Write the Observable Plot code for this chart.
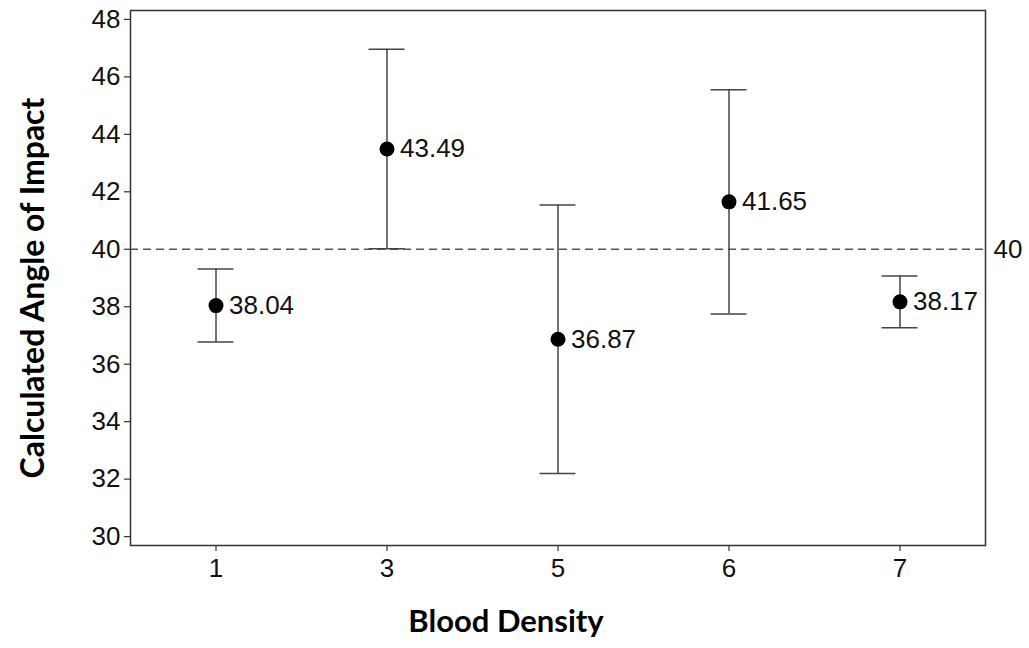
<!DOCTYPE html>
<html>
<head>
<meta charset="utf-8">
<script src="https://cdn.jsdelivr.net/npm/d3@7"></script>
<script src="https://cdn.jsdelivr.net/npm/@observablehq/plot@0.6"></script>
<style>
  html, body { margin: 0; padding: 0; background: #fff; }
</style>
</head>
<body>
<div id="chart"></div>
<script>
const categories = ["1", "3", "5", "6", "7"];
const means = [38.04, 43.49, 36.87, 41.65, 38.17];
const lower = [36.77, 40.02, 32.20, 37.75, 37.27];
const upper = [39.31, 46.96, 41.54, 45.55, 39.07];
const yTicks = [30, 32, 34, 36, 38, 40, 42, 44, 46, 48];
const refValue = 40;
const xLabel = "Blood Density";
const yLabel = "Calculated Angle of Impact";

const capHalf = 0.105; // half-width of error bar caps, in category steps
const data = categories.map((c, i) => ({i, cat: c, mean: means[i], lo: lower[i], hi: upper[i]}));

const chart = Plot.plot({
  width: 1029,
  height: 648,
  marginLeft: 130,
  marginRight: 44,
  marginTop: 10,
  marginBottom: 103,
  style: {fontFamily: "'Liberation Sans', Arial, sans-serif", background: "#fff", color: "#111"},
  x: {type: "linear", domain: [-0.5, categories.length - 0.5], label: null},
  y: {domain: [29.69, 48.31], label: null},
  marks: [
    Plot.axisY({ticks: yTicks, tickSize: 6, tickPadding: 4, fontSize: 26, stroke: "#333", strokeWidth: 1.2, label: null}),
    Plot.axisX({ticks: categories.map((c, i) => i), tickFormat: i => categories[i], tickSize: 6, tickPadding: 7, fontSize: 26, stroke: "#333", strokeWidth: 1.2, label: null}),
    Plot.ruleY([refValue], {stroke: "#555", strokeWidth: 1.5, strokeDasharray: "8,5"}),
    Plot.text([refValue], {y: d => d, frameAnchor: "right", dx: 8, textAnchor: "start", text: d => String(d), fontSize: 26, fill: "#111"}),
    Plot.ruleX(data, {x: "i", y1: "lo", y2: "hi", stroke: "#444", strokeWidth: 1.5}),
    Plot.ruleY(data, {y: "lo", x1: d => d.i - capHalf, x2: d => d.i + capHalf, stroke: "#444", strokeWidth: 1.5}),
    Plot.ruleY(data, {y: "hi", x1: d => d.i - capHalf, x2: d => d.i + capHalf, stroke: "#444", strokeWidth: 1.5}),
    Plot.dot(data, {x: "i", y: "mean", r: 7.5, fill: "#000", stroke: "none"}),
    Plot.text(data, {x: "i", y: "mean", text: d => d.mean.toFixed(2), dx: 13, textAnchor: "start", fontSize: 26, fill: "#111"}),
    Plot.frame({stroke: "#333", strokeWidth: 1.5}),
    Plot.text([xLabel], {frameAnchor: "bottom", textAnchor: "middle", dx: -52, dy: 86, text: d => d, fontSize: 31, fontWeight: "bold", fontFamily: "Lato, 'Open Sans', sans-serif", fill: "#000"}),
    Plot.text([yLabel], {frameAnchor: "left", textAnchor: "middle", rotate: -90, dx: -97, dy: 10, text: d => d, fontSize: 32, fontWeight: "bold", fontFamily: "Lato, 'Open Sans', sans-serif", fill: "#000"})
  ]
});
document.getElementById("chart").appendChild(chart);
</script>
</body>
</html>
